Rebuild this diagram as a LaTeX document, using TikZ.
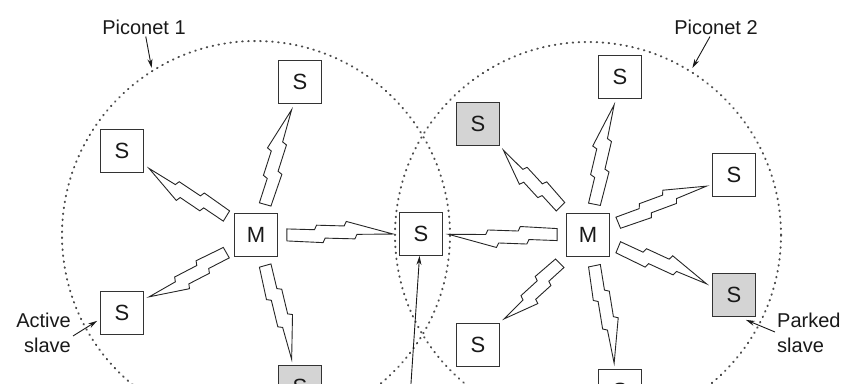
\documentclass[tikz,border=0pt]{standalone}
\usepackage{fontspec}
\setsansfont{Liberation Sans}
\usetikzlibrary{positioning,arrows.meta,calc}
\pgfdeclarelayer{bg}
\pgfsetlayers{bg,main}
\tikzset{
	>={Stealth[length=9pt,width=5pt]}
}

\begin{document}
\begin{tikzpicture}[
	x = 1pt,
	y = 1pt,
	every node/.style = {
		font = \sffamily\fontsize{20}{25}\selectfont,
		text = black!90
	},
	station/.style = {
		draw = black!80,
		line width = 1.3pt,
		fill = white,
		minimum size = 42.5pt,
		inner sep = 0pt,
		font = \sffamily\fontsize{22}{22}\selectfont
	},
	parked/.style = {
		station,
		fill = black!17
	},
	label/.style = {
		inner sep = 2pt
	},
	piconet/.style = {
		draw = black!70,
		line width = 2pt,
		line cap = round,
		dash pattern = on .6pt off 5.4pt
	},
	pointer/.style = {
		->,
		draw = black!90,
		line width = .9pt
	},
	bolt/.style = {
		draw = black!85,
		fill = white,
		line width = .9pt,
		to path = {
			let \p1 = (\tikztostart), \p2 = (\tikztotarget),
				\n1 = {int(atan2(\y2-\y1,\x2-\x1))}, \n2 = {int(\n1+180)},
				\p3 = ($(\tikztostart.\n1)!9pt!(\p2)$),
				\p4 = ($(\tikztotarget.\n2)!6pt!(\p1)$) in
			($(\p3)!6pt!90:(\p4)$)
			-- ($(\p3)!.26!(\p4)!5pt!90:(\p4)$)
			-- ($(\p3)!.28!(\p4)!9.5pt!90:(\p4)$)
			-- ($(\p3)!.54!(\p4)!8.5pt!90:(\p4)$)
			-- ($(\p3)!.56!(\p4)!13pt!90:(\p4)$)
			-- (\p4)
			-- ($(\p3)!.66!(\p4)!0pt!90:(\p4)$)
			-- ($(\p3)!.64!(\p4)!-4.5pt!90:(\p4)$)
			-- ($(\p3)!.36!(\p4)!-3.5pt!90:(\p4)$)
			-- ($(\p3)!.34!(\p4)!-8pt!90:(\p4)$)
			-- ($(\p3)!-6pt!90:(\p4)$)
			-- cycle
		}
	}
	]
	
	\useasboundingbox (0,0) rectangle (843,383);
	
	% piconet 1
	\node (master_A) [station] at (256,148) {M};
	\node (slave_A1) [station] at (300,301) {S};
	\node (slave_A2) [station] at (122,232) {S};
	\node (slave_A3) [station] at (122,70) {S};
	\node (slave_A4) [parked] at (300,-4) {S};
	
	% shared slave
	\node (slave_AB) [station] at (421,149) {S};
	
	% piconet 2
	\node (master_B) [station] at (588,148) {M};
	\node (slave_B1) [station] at (620,306) {S};
	\node (slave_B2) [parked] at (478,259) {S};
	\node (slave_B3) [station] at (734,208) {S};
	\node (slave_B4) [parked] at (734,88) {S};
	\node (slave_B5) [station] at (478,38) {S};
	\node (slave_B6) [station] at (620,-8) {S};
	
	\begin{pgfonlayer}{bg}
		\draw[piconet] (master_A) circle[radius=194pt];
		\draw[piconet] (master_B) circle[radius=193pt];
	\end{pgfonlayer}
	
	\draw[bolt] (master_A) to (slave_A1);
	\draw[bolt] (master_A) to (slave_A2);
	\draw[bolt] (master_A) to (slave_A3);
	\draw[bolt] (master_A) to (slave_A4);
	\draw[bolt] (master_A) to (slave_AB);
	
	\draw[bolt] (master_B) to (slave_AB);
	\draw[bolt] (master_B) to (slave_B1);
	\draw[bolt] (master_B) to (slave_B2);
	\draw[bolt] (master_B) to (slave_B3);
	\draw[bolt] (master_B) to (slave_B4);
	\draw[bolt] (master_B) to (slave_B5);
	\draw[bolt] (master_B) to (slave_B6);
	
	% labels
	\node (piconet_A_title) [label] at (144,356) {Piconet 1};
	\coordinate (piconet_A_edge) at ($(master_A)+(122:197pt)$);
	\draw[pointer] (piconet_A_title) -- (piconet_A_edge);
	
	\node (piconet_B_title) [label] at (716,356) {Piconet 2};
	\coordinate (piconet_B_edge) at ($(master_B)+(58:197pt)$);
	\draw[pointer] ([xshift=-6pt]piconet_B_title.south) -- (piconet_B_edge);
	
	\node (active_label) [label, align=right, anchor=east] at (73,50) {Active\\slave};
	\draw[pointer] ([yshift=-3pt]active_label.east) -- ([xshift=-3pt,yshift=14pt]slave_A3.south west);
	
	\node (parked_label) [label, align=left, anchor=west] at (775,50) {Parked\\slave};
	\draw[pointer] ([yshift=1pt]parked_label.west) -- ([xshift=-10pt,yshift=-3pt]slave_B4.south east);
	
	\coordinate (bridge_label) at (409,-30);
	\draw[pointer] (bridge_label) -- (slave_AB);
	
\end{tikzpicture}
\end{document}
